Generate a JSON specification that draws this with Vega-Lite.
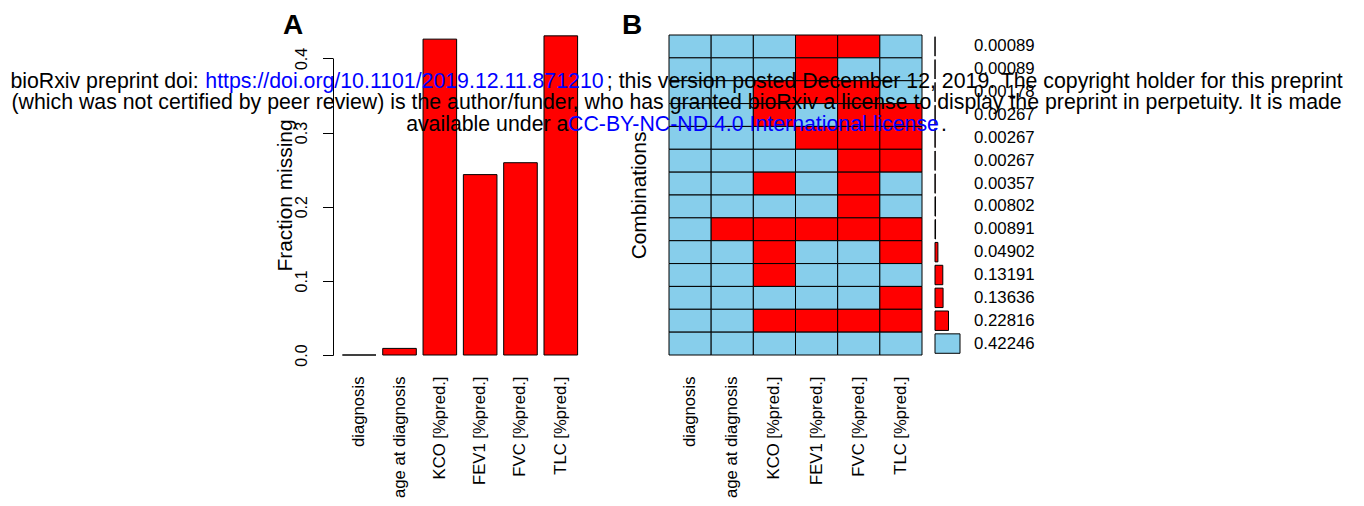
{
  "$schema": "https://vega.github.io/schema/vega-lite/v6.json",
  "padding": {"left": 10, "top": 11, "right": 5, "bottom": 2},
  "background": "white",
  "title": {
    "text": [
      "bioRxiv preprint doi: \u00a0\u00a0\u00a0\u00a0\u00a0\u00a0\u00a0\u00a0\u00a0\u00a0\u00a0\u00a0\u00a0\u00a0\u00a0\u00a0\u00a0\u00a0\u00a0\u00a0\u00a0\u00a0\u00a0\u00a0\u00a0\u00a0\u00a0\u00a0\u00a0\u00a0\u00a0\u00a0\u00a0\u00a0\u00a0\u00a0\u00a0\u00a0\u00a0\u00a0\u00a0\u00a0\u00a0\u00a0\u00a0\u00a0\u00a0\u00a0\u00a0\u00a0\u00a0\u00a0\u00a0\u00a0\u00a0\u00a0\u00a0\u00a0\u00a0\u00a0\u00a0\u00a0\u00a0\u00a0\u00a0\u00a0\u00a0\u00a0; this version posted December 12, 2019. The copyright holder for this preprint",
      "(which was not certified by peer review) is the author/funder, who has granted bioRxiv a license to display the preprint in perpetuity. It is made",
      "available under a\u00a0\u00a0\u00a0\u00a0\u00a0\u00a0\u00a0\u00a0\u00a0\u00a0\u00a0\u00a0\u00a0\u00a0\u00a0\u00a0\u00a0\u00a0\u00a0\u00a0\u00a0\u00a0\u00a0\u00a0\u00a0\u00a0\u00a0\u00a0\u00a0\u00a0\u00a0\u00a0\u00a0\u00a0\u00a0\u00a0\u00a0\u00a0\u00a0\u00a0\u00a0\u00a0\u00a0\u00a0\u00a0\u00a0\u00a0\u00a0\u00a0\u00a0\u00a0\u00a0\u00a0\u00a0\u00a0\u00a0\u00a0\u00a0\u00a0\u00a0\u00a0\u00a0\u00a0."
    ],
    "subtitle": [
      "\u200b\u2003\u2003\u2003\u2003\u2003\u2003\u2003\u2003\u2003https://doi.org/10.1101/2019.12.11.871210\u2003\u2003\u2003\u2003\u2003\u2003\u2003\u2003\u2003\u2003\u2003\u2003\u2003\u2003\u2003\u2003\u2003\u2003\u2003\u2003\u2003\u2003\u2003\u2003\u2003\u2003\u2003\u2003\u2003\u2003\u2003\u2003\u2003\u2003\u00a0\u00a0\u200b",
      "\u200b",
      "\u200b\u00a0\u00a0\u00a0\u00a0\u00a0\u00a0\u00a0\u00a0\u00a0\u00a0\u00a0\u00a0\u00a0\u00a0\u00a0\u00a0\u00a0\u00a0\u00a0\u00a0\u00a0\u00a0\u00a0\u00a0\u00a0\u00a0CC-BY-NC-ND 4.0 International license"
    ],
    "anchor": "middle",
    "frame": "bounds",
    "dx": 22,
    "offset": -124,
    "baseline": "top",
    "font": "Liberation Sans",
    "fontSize": 21.3,
    "fontWeight": "normal",
    "lineHeight": 21.7,
    "color": "black",
    "subtitleFont": "Liberation Sans",
    "subtitleFontSize": 21.3,
    "subtitleFontWeight": "normal",
    "subtitleLineHeight": 21.7,
    "subtitleColor": "#0000FF",
    "subtitlePadding": -64.7
  },
  "datasets": {
    "fractions": [
      {"variable": "diagnosis", "fraction": 0},
      {"variable": "age at diagnosis", "fraction": 0.00891},
      {"variable": "KCO [%pred.]", "fraction": 0.42602},
      {"variable": "FEV1 [%pred.]", "fraction": 0.2433},
      {"variable": "FVC [%pred.]", "fraction": 0.25934},
      {"variable": "TLC [%pred.]", "fraction": 0.43046}
    ],
    "combos": [
      {"row": 1, "freq": 0.00089, "status": "missing"},
      {"row": 2, "freq": 0.00089, "status": "missing"},
      {"row": 3, "freq": 0.00178, "status": "missing"},
      {"row": 4, "freq": 0.00267, "status": "missing"},
      {"row": 5, "freq": 0.00267, "status": "missing"},
      {"row": 6, "freq": 0.00267, "status": "missing"},
      {"row": 7, "freq": 0.00357, "status": "missing"},
      {"row": 8, "freq": 0.00802, "status": "missing"},
      {"row": 9, "freq": 0.00891, "status": "missing"},
      {"row": 10, "freq": 0.04902, "status": "missing"},
      {"row": 11, "freq": 0.13191, "status": "missing"},
      {"row": 12, "freq": 0.13636, "status": "missing"},
      {"row": 13, "freq": 0.22816, "status": "missing"},
      {"row": 14, "freq": 0.42246, "status": "observed"}
    ],
    "cells": [
      {"row": 1, "variable": "diagnosis", "status": "observed"},
      {"row": 1, "variable": "age at diagnosis", "status": "observed"},
      {"row": 1, "variable": "KCO [%pred.]", "status": "observed"},
      {"row": 1, "variable": "FEV1 [%pred.]", "status": "missing"},
      {"row": 1, "variable": "FVC [%pred.]", "status": "missing"},
      {"row": 1, "variable": "TLC [%pred.]", "status": "observed"},
      {"row": 2, "variable": "diagnosis", "status": "observed"},
      {"row": 2, "variable": "age at diagnosis", "status": "observed"},
      {"row": 2, "variable": "KCO [%pred.]", "status": "observed"},
      {"row": 2, "variable": "FEV1 [%pred.]", "status": "missing"},
      {"row": 2, "variable": "FVC [%pred.]", "status": "observed"},
      {"row": 2, "variable": "TLC [%pred.]", "status": "observed"},
      {"row": 3, "variable": "diagnosis", "status": "observed"},
      {"row": 3, "variable": "age at diagnosis", "status": "observed"},
      {"row": 3, "variable": "KCO [%pred.]", "status": "missing"},
      {"row": 3, "variable": "FEV1 [%pred.]", "status": "missing"},
      {"row": 3, "variable": "FVC [%pred.]", "status": "missing"},
      {"row": 3, "variable": "TLC [%pred.]", "status": "observed"},
      {"row": 4, "variable": "diagnosis", "status": "observed"},
      {"row": 4, "variable": "age at diagnosis", "status": "observed"},
      {"row": 4, "variable": "KCO [%pred.]", "status": "missing"},
      {"row": 4, "variable": "FEV1 [%pred.]", "status": "observed"},
      {"row": 4, "variable": "FVC [%pred.]", "status": "missing"},
      {"row": 4, "variable": "TLC [%pred.]", "status": "missing"},
      {"row": 5, "variable": "diagnosis", "status": "observed"},
      {"row": 5, "variable": "age at diagnosis", "status": "observed"},
      {"row": 5, "variable": "KCO [%pred.]", "status": "observed"},
      {"row": 5, "variable": "FEV1 [%pred.]", "status": "missing"},
      {"row": 5, "variable": "FVC [%pred.]", "status": "missing"},
      {"row": 5, "variable": "TLC [%pred.]", "status": "missing"},
      {"row": 6, "variable": "diagnosis", "status": "observed"},
      {"row": 6, "variable": "age at diagnosis", "status": "observed"},
      {"row": 6, "variable": "KCO [%pred.]", "status": "observed"},
      {"row": 6, "variable": "FEV1 [%pred.]", "status": "observed"},
      {"row": 6, "variable": "FVC [%pred.]", "status": "missing"},
      {"row": 6, "variable": "TLC [%pred.]", "status": "missing"},
      {"row": 7, "variable": "diagnosis", "status": "observed"},
      {"row": 7, "variable": "age at diagnosis", "status": "observed"},
      {"row": 7, "variable": "KCO [%pred.]", "status": "missing"},
      {"row": 7, "variable": "FEV1 [%pred.]", "status": "observed"},
      {"row": 7, "variable": "FVC [%pred.]", "status": "missing"},
      {"row": 7, "variable": "TLC [%pred.]", "status": "observed"},
      {"row": 8, "variable": "diagnosis", "status": "observed"},
      {"row": 8, "variable": "age at diagnosis", "status": "observed"},
      {"row": 8, "variable": "KCO [%pred.]", "status": "observed"},
      {"row": 8, "variable": "FEV1 [%pred.]", "status": "observed"},
      {"row": 8, "variable": "FVC [%pred.]", "status": "missing"},
      {"row": 8, "variable": "TLC [%pred.]", "status": "observed"},
      {"row": 9, "variable": "diagnosis", "status": "observed"},
      {"row": 9, "variable": "age at diagnosis", "status": "missing"},
      {"row": 9, "variable": "KCO [%pred.]", "status": "missing"},
      {"row": 9, "variable": "FEV1 [%pred.]", "status": "missing"},
      {"row": 9, "variable": "FVC [%pred.]", "status": "missing"},
      {"row": 9, "variable": "TLC [%pred.]", "status": "missing"},
      {"row": 10, "variable": "diagnosis", "status": "observed"},
      {"row": 10, "variable": "age at diagnosis", "status": "observed"},
      {"row": 10, "variable": "KCO [%pred.]", "status": "missing"},
      {"row": 10, "variable": "FEV1 [%pred.]", "status": "observed"},
      {"row": 10, "variable": "FVC [%pred.]", "status": "observed"},
      {"row": 10, "variable": "TLC [%pred.]", "status": "missing"},
      {"row": 11, "variable": "diagnosis", "status": "observed"},
      {"row": 11, "variable": "age at diagnosis", "status": "observed"},
      {"row": 11, "variable": "KCO [%pred.]", "status": "missing"},
      {"row": 11, "variable": "FEV1 [%pred.]", "status": "observed"},
      {"row": 11, "variable": "FVC [%pred.]", "status": "observed"},
      {"row": 11, "variable": "TLC [%pred.]", "status": "observed"},
      {"row": 12, "variable": "diagnosis", "status": "observed"},
      {"row": 12, "variable": "age at diagnosis", "status": "observed"},
      {"row": 12, "variable": "KCO [%pred.]", "status": "observed"},
      {"row": 12, "variable": "FEV1 [%pred.]", "status": "observed"},
      {"row": 12, "variable": "FVC [%pred.]", "status": "observed"},
      {"row": 12, "variable": "TLC [%pred.]", "status": "missing"},
      {"row": 13, "variable": "diagnosis", "status": "observed"},
      {"row": 13, "variable": "age at diagnosis", "status": "observed"},
      {"row": 13, "variable": "KCO [%pred.]", "status": "missing"},
      {"row": 13, "variable": "FEV1 [%pred.]", "status": "missing"},
      {"row": 13, "variable": "FVC [%pred.]", "status": "missing"},
      {"row": 13, "variable": "TLC [%pred.]", "status": "missing"},
      {"row": 14, "variable": "diagnosis", "status": "observed"},
      {"row": 14, "variable": "age at diagnosis", "status": "observed"},
      {"row": 14, "variable": "KCO [%pred.]", "status": "observed"},
      {"row": 14, "variable": "FEV1 [%pred.]", "status": "observed"},
      {"row": 14, "variable": "FVC [%pred.]", "status": "observed"},
      {"row": 14, "variable": "TLC [%pred.]", "status": "observed"}
    ]
  },
  "spacing": 82,
  "bounds": "flush",
  "hconcat": [
    {
      "width": 254,
      "height": 320,
      "title": {"text": "A", "anchor": "start", "frame": "group", "dx": -50, "offset": -27, "baseline": "alphabetic", "fontSize": 28, "fontWeight": "bold", "color": "black", "font": "Liberation Sans"},
      "data": {"name": "fractions"},
      "mark": {"type": "bar", "fill": "#FF0000", "stroke": "black", "strokeWidth": 1},
      "encoding": {
        "x": {
          "field": "variable", "type": "nominal", "sort": null,
          "scale": {"paddingInner": 0.1667, "paddingOuter": 0.2333},
          "axis": {"title": null, "labelAngle": -90, "labelAlign": "right", "labelBaseline": "middle", "ticks": false, "domain": false, "labelPadding": 21, "labelFontSize": 16.7, "labelLimit": 0}
        },
        "y": {
          "field": "fraction", "type": "quantitative",
          "scale": {"domain": [0, 0.4316], "nice": false},
          "axis": {"title": "Fraction missing", "values": [0, 0.1, 0.2, 0.3, 0.4], "format": ".1f", "labelAngle": -90, "labelAlign": "center", "labelBaseline": "alphabetic", "labelFlush": false, "tickSize": 10.5, "labelPadding": 16, "labelFontSize": 16, "titleFontSize": 20.9, "titlePadding": -2, "domainDash": [296.6, 100]}
        }
      }
    },
    {
      "spacing": 13,
      "bounds": "flush",
      "hconcat": [
        {
          "width": 253,
          "height": 320,
          "title": {"text": "B", "anchor": "start", "frame": "group", "dx": -47, "offset": -27, "baseline": "alphabetic", "fontSize": 28, "fontWeight": "bold", "color": "black", "font": "Liberation Sans"},
          "data": {"name": "cells"},
          "mark": {"type": "rect", "stroke": "black", "strokeWidth": 1},
          "encoding": {
            "x": {
              "field": "variable", "type": "nominal",
              "sort": ["diagnosis", "age at diagnosis", "KCO [%pred.]", "FEV1 [%pred.]", "FVC [%pred.]", "TLC [%pred.]"],
              "scale": {"paddingInner": 0, "paddingOuter": 0},
              "axis": {"title": null, "labelAngle": -90, "labelAlign": "right", "labelBaseline": "middle", "ticks": false, "domain": false, "labelPadding": 21, "labelFontSize": 16.7, "labelLimit": 0}
            },
            "y": {
              "field": "row", "type": "ordinal",
              "scale": {"paddingInner": 0, "paddingOuter": 0},
              "axis": {"title": "Combinations", "labels": false, "ticks": false, "domain": false, "titleFontSize": 20.9, "titlePadding": 19.6}
            },
            "color": {"field": "status", "type": "nominal", "scale": {"domain": ["observed", "missing"], "range": ["#87CEEB", "#FF0000"]}, "legend": null}
          }
        },
        {
          "width": 78,
          "height": 320,
          "data": {"name": "combos"},
          "layer": [
            {
              "mark": {"type": "bar", "stroke": "black", "strokeWidth": 1},
              "encoding": {
                "x": {"field": "freq", "type": "quantitative", "scale": {"domain": [0, 1.3176], "nice": false}, "axis": null},
                "y": {"field": "row", "type": "ordinal", "scale": {"paddingInner": 0.15, "paddingOuter": 0.075}, "axis": null},
                "color": {"field": "status", "type": "nominal", "scale": {"domain": ["observed", "missing"], "range": ["#87CEEB", "#FF0000"]}, "legend": null}
              }
            },
            {
              "mark": {"type": "text", "align": "left", "baseline": "middle", "fontSize": 16.8, "font": "Liberation Sans", "color": "black"},
              "encoding": {
                "y": {"field": "row", "type": "ordinal"},
                "text": {"field": "freq", "type": "quantitative", "format": ".5f"}
              }
            }
          ]
        }
      ]
    }
  ],
  "config": {
    "view": {"stroke": null},
    "font": "Liberation Sans",
    "axis": {"grid": false, "labelColor": "black", "titleColor": "black", "domainColor": "black", "tickColor": "black", "titleFontWeight": "normal", "labelFont": "Liberation Sans", "titleFont": "Liberation Sans"}
  }
}
